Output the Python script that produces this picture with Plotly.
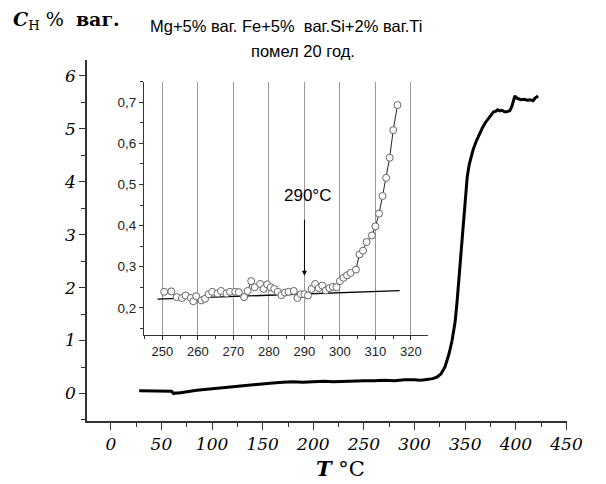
import plotly.graph_objects as go

# Main curve: temperature (°C) vs hydrogen content (% wt.)
main_T = [28, 35, 40, 45, 50, 55, 58, 60, 62, 64, 67, 70, 75, 80, 85, 90, 95, 100,
          105, 110, 115, 120, 125, 130, 135, 140, 145, 150, 160, 170, 180, 190, 200,
          210, 220, 230, 240, 250, 260, 270, 280, 290, 300, 305, 310, 315, 318, 322,
          326, 330, 334, 337, 340, 342, 344, 346, 348, 350, 352, 354, 356, 358, 361,
          364, 367, 370, 373, 376, 378, 380, 382, 384, 386, 388, 390, 392, 394, 396,
          397, 398, 399, 401, 403, 405, 408, 411, 414, 417, 419, 421, 422]
main_C = [0.05, 0.05, 0.04, 0.05, 0.04, 0.05, 0.05, 0.04, 0.00, 0.01, 0.01, 0.02, 0.04,
          0.05, 0.06, 0.07, 0.08, 0.08, 0.10, 0.11, 0.12, 0.12, 0.13, 0.15, 0.15, 0.17,
          0.18, 0.19, 0.20, 0.21, 0.22, 0.21, 0.22, 0.23, 0.22, 0.23, 0.23, 0.24, 0.24,
          0.25, 0.24, 0.26, 0.26, 0.25, 0.26, 0.27, 0.28, 0.31, 0.37, 0.50, 0.75, 1.00,
          1.35, 1.75, 2.20, 2.65, 3.20, 3.65, 4.10, 4.33, 4.48, 4.62, 4.77, 4.90, 5.02,
          5.12, 5.20, 5.28, 5.32, 5.33, 5.36, 5.34, 5.35, 5.33, 5.32, 5.33, 5.34, 5.42,
          5.50, 5.58, 5.62, 5.58, 5.56, 5.55, 5.56, 5.54, 5.55, 5.53, 5.58, 5.60, 5.62]

# Inset: measured points
ins_T = [250.5, 252.5, 254, 255.5, 256.5, 258, 258.7, 259.5, 261, 262, 263, 264, 265.5,
         266.5, 268, 269, 270.5, 271.5, 273, 274, 275, 276, 277.5, 278.5, 279.5, 280.5,
         281.5, 282.5, 283.5, 284.5, 285.5, 287, 288, 289, 290, 291, 292, 293, 294, 295,
         296, 297, 298, 299, 300, 301, 302, 303, 304.5, 305.5, 306.5, 307.5, 309, 310,
         311, 312, 313, 314, 315, 316.2]
ins_C = [0.239, 0.240, 0.226, 0.224, 0.230, 0.224, 0.216, 0.228, 0.218, 0.222, 0.233,
         0.239, 0.235, 0.241, 0.235, 0.239, 0.239, 0.238, 0.226, 0.241, 0.265, 0.250,
         0.258, 0.246, 0.257, 0.250, 0.246, 0.239, 0.231, 0.237, 0.239, 0.241, 0.224,
         0.233, 0.233, 0.230, 0.246, 0.258, 0.248, 0.254, 0.242, 0.248, 0.251, 0.250,
         0.265, 0.273, 0.279, 0.285, 0.293, 0.330, 0.339, 0.360, 0.376, 0.398, 0.429,
         0.472, 0.516, 0.565, 0.632, 0.693]
base_T = [248.6, 316.8]
base_C = [0.221, 0.242]

x_ticks = [0, 50, 100, 150, 200, 250, 300, 350, 400, 450]
y_ticks = [0, 1, 2, 3, 4, 5, 6]
ins_x_ticks = [250, 260, 270, 280, 290, 300, 310, 320]
ins_y_ticks = [0.2, 0.3, 0.4, 0.5, 0.6, 0.7]
ins_y_text = ["0,2", "0,3", "0,4", "0,5", "0,6", "0,7"]

serif = "DejaVu Serif"
sans = "Liberation Sans"

# page body has an 8px default margin: plot area placed at screen x 87..567, y 60..421
PX0, PY0, PW, PH = 87, 60.4, 480, 360.5
OFF = 8


def px(X):
    return (X - PX0) / PW


def py(Y):
    return (PY0 + PH - Y) / PH


fig = go.Figure()
fig.add_trace(go.Scatter(x=main_T, y=main_C, mode="lines",
                         line=dict(color="black", width=3), xaxis="x", yaxis="y",
                         showlegend=False))
fig.add_trace(go.Scatter(x=base_T, y=base_C, mode="lines",
                         line=dict(color="black", width=1.3), xaxis="x2", yaxis="y2",
                         showlegend=False))
fig.add_trace(go.Scatter(x=ins_T, y=ins_C, mode="lines+markers",
                         line=dict(color="#222", width=1),
                         marker=dict(symbol="circle", size=7, color="white",
                                     line=dict(color="#666", width=1)),
                         xaxis="x2", yaxis="y2", showlegend=False))

fig.update_layout(
    width=606 - OFF, height=484 - OFF, autosize=False,
    margin=dict(l=PX0 - OFF, r=606 - OFF - (PX0 - OFF) - PW, t=PY0 - OFF,
                b=484 - OFF - (PY0 - OFF) - PH),
    paper_bgcolor="white", plot_bgcolor="rgba(0,0,0,0)",
    xaxis=dict(range=[-23.5, 450.5], tickvals=x_ticks,
               ticktext=[f"<i>{v}</i>" for v in x_ticks],
               showgrid=False, zeroline=False,
               showline=True, linecolor="#333", linewidth=1.5,
               ticks="outside", ticklen=7, tickcolor="#333", tickwidth=1.2,
               minor=dict(tick0=0, dtick=25, ticks="outside", ticklen=4, tickcolor="#333"),
               tickfont=dict(family=serif, size=17, color="black")),
    yaxis=dict(range=[-0.52, 6.3], tickvals=y_ticks,
               ticktext=[f"<i>{v}</i>" for v in y_ticks],
               showgrid=False, zeroline=False,
               showline=True, linecolor="#333", linewidth=1.5,
               ticks="outside", ticklen=6, tickcolor="#333", tickwidth=1.2,
               minor=dict(tick0=0, dtick=0.5, ticks="outside", ticklen=4, tickcolor="#333"),
               tickfont=dict(family=serif, size=17, color="black")),
    xaxis2=dict(domain=[px(144), px(428)], anchor="y2", range=[244.8, 324.8],
                tickvals=ins_x_ticks, showgrid=True, gridcolor="#999", gridwidth=1,
                zeroline=False, showline=True, linecolor="#333", linewidth=1,
                ticks="outside", ticklen=4, tickcolor="#333",
                minor=dict(tick0=250, dtick=5, ticks="outside", ticklen=3, tickcolor="#333"),
                tickfont=dict(family=sans, size=13, color="#222")),
    yaxis2=dict(domain=[py(335), py(82)], anchor="x2", range=[0.134, 0.75],
                tickvals=ins_y_ticks, ticktext=ins_y_text, showgrid=False,
                zeroline=False, showline=True, linecolor="#333", linewidth=1,
                ticks="outside", ticklen=4, tickcolor="#333",
                minor=dict(tick0=0.2, dtick=0.05, ticks="outside", ticklen=3, tickcolor="#333"),
                tickfont=dict(family=sans, size=13.5, color="#222")),
)

fig.add_annotation(xref="paper", yref="paper", x=px(286), y=py(26),
                   xanchor="center", yanchor="middle",
                   text="Mg+5% ваг. Fe+5%  ваг.Si+2% ваг.Ti", showarrow=False,
                   font=dict(family=sans, size=16.5, color="black"))
fig.add_annotation(xref="paper", yref="paper", x=px(303), y=py(51),
                   xanchor="center", yanchor="middle",
                   text="помел 20 год.", showarrow=False,
                   font=dict(family=sans, size=16.5, color="black"))
fig.add_annotation(xref="paper", yref="paper", x=px(11), y=py(21),
                   xanchor="left", yanchor="middle",
                   text="<b><i>C</i></b><sub>Н</sub> %  <b>ваг.</b>",
                   showarrow=False, font=dict(family=serif, size=19, color="black"))
fig.add_annotation(xref="paper", yref="paper", x=px(340), y=py(468),
                   xanchor="center", yanchor="middle",
                   text="<b><i>T</i></b> °C", showarrow=False,
                   font=dict(family=serif, size=21, color="black"))
fig.add_annotation(xref="x2", yref="y2", x=290, y=0.278, ax=290, ay=0.418,
                   axref="x2", ayref="y2", text="", showarrow=True,
                   arrowhead=2, arrowsize=1, arrowwidth=1, arrowcolor="black")
fig.add_annotation(xref="x2", yref="y2", x=290.8, y=0.473, text="290°C", showarrow=False,
                   xanchor="center", yanchor="middle",
                   font=dict(family=sans, size=17, color="black"))

fig.write_html("out.html")
